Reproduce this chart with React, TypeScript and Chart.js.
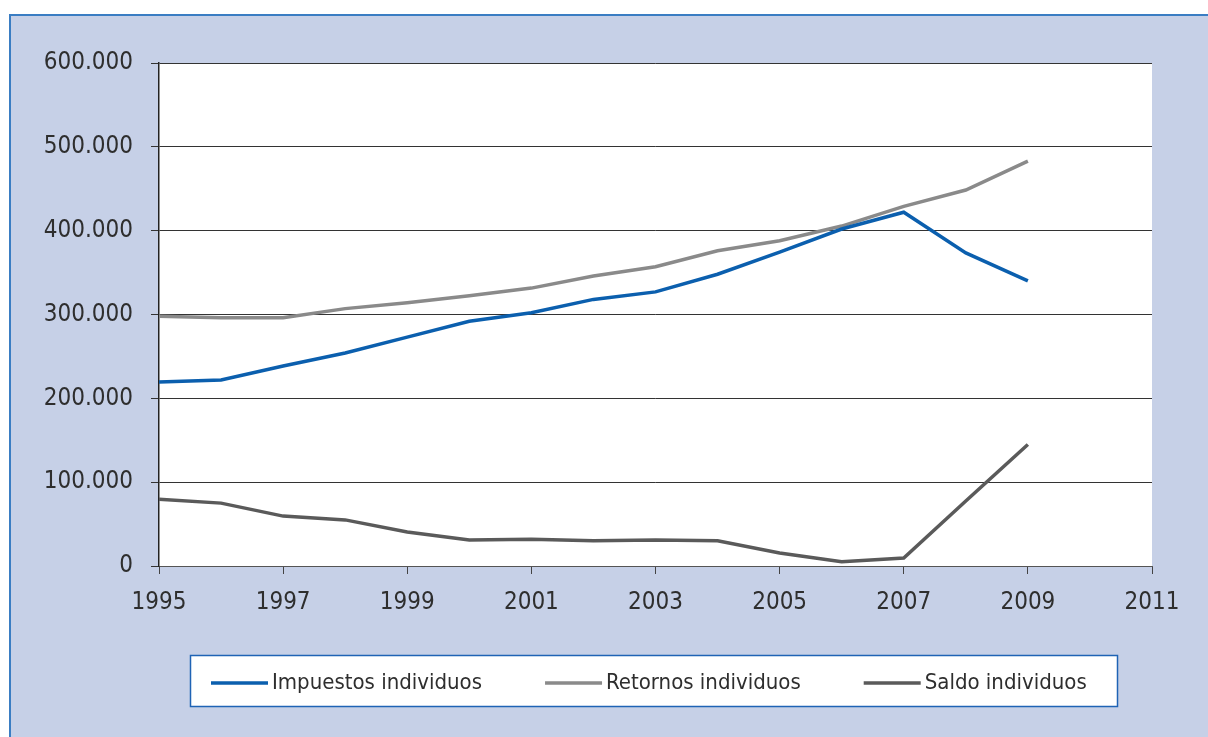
import React, { useEffect, useRef } from "react";
import { Chart, registerables } from "chart.js";

Chart.register(...registerables);

const years = [1995, 1996, 1997, 1998, 1999, 2000, 2001, 2002, 2003, 2004, 2005, 2006, 2007, 2008, 2009];
const impuestos = [219500, 222000, 238500, 254000, 273000, 292000, 302000, 318000, 327000, 348000, 374500, 402000, 422000, 373500, 340000];
const retornos = [298000, 296000, 296000, 307000, 314000, 322500, 331500, 346000, 357000, 376000, 388000, 405500, 429000, 448500, 483000];
const saldo = [79500, 75000, 59500, 55000, 40500, 31000, 32000, 30000, 31000, 30000, 15500, 5000, 9500, 77500, 145000];
const seriesNames = ["Impuestos individuos", "Retornos individuos", "Saldo individuos"];
const seriesColors = ["#0b5fae", "#8a8a8a", "#5a5a5a"];

const FONT = "'Liberation Sans Narrow', 'DejaVu Sans Condensed', 'Liberation Sans', sans-serif";
const TEXT = "#2e2e2e";

const fmt = (v: number) => String(Math.round(v)).replace(/\B(?=(\d{3})+(?!\d))/g, ".");

const bgPlugin = {
  id: "plotBg",
  beforeDraw(chart: any) {
    const { ctx, chartArea } = chart;
    ctx.save();
    ctx.fillStyle = "#ffffff";
    ctx.fillRect(chartArea.left, chartArea.top, chartArea.right - chartArea.left, chartArea.bottom - chartArea.top);
    ctx.restore();
  },
};

const legendPlugin = {
  id: "boxLegend",
  afterDraw(chart: any) {
    const ctx = chart.ctx;
    const boxL = 190, boxT = 655, boxW = 927, boxH = 51;
    ctx.save();
    ctx.fillStyle = "#ffffff";
    ctx.fillRect(boxL, boxT, boxW, boxH);
    ctx.strokeStyle = "#1f63b5";
    ctx.lineWidth = 1.5;
    ctx.strokeRect(boxL + 0.5, boxT + 0.5, boxW, boxH);
    ctx.font = `22px ${FONT}`;
    ctx.textBaseline = "middle";
    ctx.fillStyle = TEXT;
    let x = boxL + 21;
    const y = boxT + 28;
    chart.data.datasets.forEach((ds: any) => {
      ctx.strokeStyle = ds.borderColor;
      ctx.lineWidth = 3.5;
      ctx.beginPath();
      ctx.moveTo(x, y);
      ctx.lineTo(x + 57, y);
      ctx.stroke();
      x += 61;
      ctx.fillText(ds.label, x, y);
      x += ctx.measureText(ds.label).width + 63;
    });
    ctx.restore();
  },
};

export default function App() {
  const ref = useRef<HTMLCanvasElement>(null);
  useEffect(() => {
    if (!ref.current) return;
    const seriesData = [impuestos, retornos, saldo];
    const chart = new Chart(ref.current, {
      type: "line",
      data: {
        datasets: seriesData.map((arr, i) => ({
          label: seriesNames[i],
          data: years.map((yr, j) => ({ x: yr, y: arr[j] })),
          borderColor: seriesColors[i],
          backgroundColor: seriesColors[i],
          borderWidth: 3.5,
          pointRadius: 0,
          tension: 0,
          fill: false,
        })),
      },
      options: {
        animation: false,
        responsive: false,
        devicePixelRatio: 1,
        layout: { padding: { top: 63, right: 56, left: 0, bottom: 0 } },
        plugins: { legend: { display: false }, tooltip: { enabled: false } },
        scales: {
          x: {
            type: "linear",
            min: 1995,
            max: 2011,
            afterFit(scale: any) { scale.height = 171; },
            afterBuildTicks(scale: any) {
              const t = [];
              for (let v = 1995; v <= 2011; v += 2) t.push({ value: v });
              scale.ticks = t;
            },
            ticks: {
              color: TEXT,
              font: { family: FONT, size: 24 },
              padding: 14,
              maxRotation: 0,
              autoSkip: false,
              callback: (v: any) => String(v),
            },
            grid: { drawOnChartArea: false, drawTicks: true, tickLength: 8, color: "#444444", lineWidth: 1 },
            border: { color: "#555555", width: 1 },
          },
          y: {
            min: 0,
            max: 600000,
            afterFit(scale: any) { scale.width = 159; },
            ticks: {
              stepSize: 100000,
              color: TEXT,
              font: { family: FONT, size: 24 },
              padding: 18,
              callback: (v: any) => fmt(Number(v)),
            },
            grid: { color: "#333333", lineWidth: 1, tickLength: 8 },
            border: { color: "#222222", width: 1.5 },
          },
        },
      },
      plugins: [bgPlugin, legendPlugin],
    });
    return () => chart.destroy();
  }, []);

  return (
    <>
      <div
        style={{
          position: "fixed",
          left: 9,
          top: 14,
          width: 1199,
          height: 723,
          boxSizing: "border-box",
          background: "#c6d0e7",
          borderTop: "2px solid #3a7dc3",
          borderLeft: "2px solid #3a7dc3",
        }}
      />
      <canvas
        ref={ref}
        width={1208}
        height={737}
        style={{ position: "fixed", left: 0, top: 0, width: 1208, height: 737, zIndex: 1 }}
      />
    </>
  );
}
